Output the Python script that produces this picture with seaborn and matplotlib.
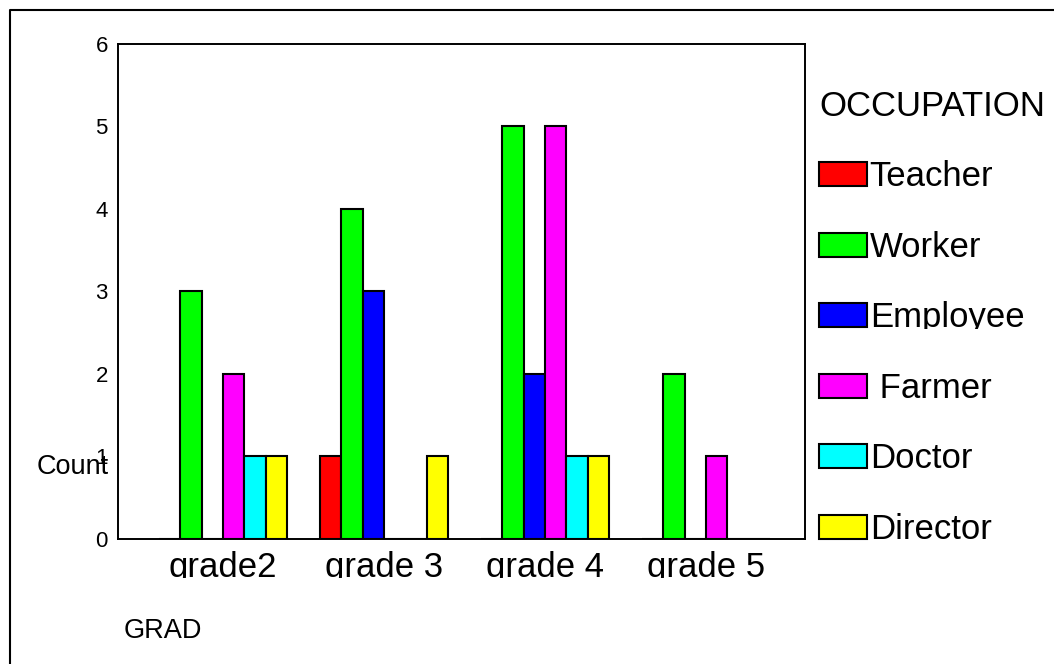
import matplotlib
matplotlib.use("Agg")
import matplotlib.pyplot as plt
from matplotlib.patches import Patch, Rectangle
from matplotlib.lines import Line2D
from matplotlib.transforms import IdentityTransform
import seaborn as sns
import pandas as pd

# Counts per grade and occupation
grades = ["grade2", "grade 3", "grade 4", "grade 5"]
occupations = ["Teacher", "Worker", "Employee", "Farmer", "Doctor", "Director"]
teacher = [0, 1, 0, 0]
worker = [3, 4, 5, 2]
employee = [0, 3, 2, 0]
farmer = [2, 0, 5, 1]
doctor = [1, 0, 1, 0]
director = [1, 1, 1, 0]
legend_labels = ["Teacher", "Worker", "Employee", " Farmer", "Doctor", "Director"]
colors = ["#FF0000", "#00FF00", "#0000FF", "#FF00FF", "#00FFFF", "#FFFF00"]
y_ticks = [0, 1, 2, 3, 4, 5, 6]

series = [teacher, worker, employee, farmer, doctor, director]
rows = []
for occ, vals in zip(occupations, series):
    for g, v in zip(grades, vals):
        rows.append({"GRAD": g, "Count": v, "OCCUPATION": occ})
df = pd.DataFrame(rows)

sns.set_theme(style="white")
plt.rcParams["font.family"] = ["Liberation Sans", "DejaVu Sans"]

W, H = 1054, 664
fig = plt.figure(figsize=(W / 100, H / 100), dpi=100)
ax = fig.add_axes([118 / W, 1 - 539 / H, (805 - 118) / W, (539 - 43.5) / H])

palette = dict(zip(occupations, colors))
sns.barplot(data=df, x="GRAD", y="Count", hue="OCCUPATION",
            order=grades, hue_order=occupations, palette=palette,
            saturation=1, width=0.8, edgecolor="black", linewidth=1.5,
            legend=False, ax=ax)

ax.set_xlim(-0.652, 3.615)
ax.set_ylim(0, 6)
ax.set_yticks(y_ticks)
ax.set_yticklabels([str(t) for t in y_ticks], fontsize=16)
ax.set_xticks(range(len(grades)))
ax.set_xticklabels(grades, fontsize=25)
ax.tick_params(axis="both", direction="out", length=4.3, width=1.3,
               color="black", labelcolor="black")
ax.tick_params(axis="y", pad=3)
ax.tick_params(axis="x", pad=4)

for s in ax.spines.values():
    s.set_visible(True)
    s.set_color("black")
    s.set_linewidth(1.4)

ax.set_ylabel("Count", rotation=0, fontsize=19.5, color="black",
              ha="center", va="center")
ax.yaxis.set_label_coords((73 - 118) / 687, (539 - 467) / 495.5)
ax.set_xlabel("GRAD", fontsize=19.5, color="black", ha="center", va="center")
ax.xaxis.set_label_coords((163 - 118) / 687, -(631 - 539) / 495.5)

handles = [Patch(facecolor=c, edgecolor="black", linewidth=1.5) for c in colors]
leg = ax.legend(handles, legend_labels, title="OCCUPATION",
                loc="upper left", bbox_to_anchor=(819 / W, 1 - 90 / H),
                bbox_transform=fig.transFigure, frameon=False, borderpad=0,
                borderaxespad=0, fontsize=25, title_fontsize=25,
                labelspacing=1.08, handlelength=1.38, handleheight=0.69,
                handletextpad=0.08, alignment="left")
for t in leg.get_texts():
    t.set_color("black")
leg.get_title().set_color("black")

# Outer frame around the chart area
fig.add_artist(Line2D([10 / W, 10 / W, 1], [0, 1 - 10 / H, 1 - 10 / H],
                      transform=fig.transFigure, color="black", linewidth=1.5))

# Category labels are cut off along their lower edge
clip = Rectangle((0, 1 - 578 / H), 1, 1, transform=fig.transFigure)
for t in ax.get_xticklabels():
    t.set_clip_path(clip)

# The "Employee" entry loses its descenders just below the baseline
fig.canvas.draw()
emp = leg.get_texts()[2]
bb = emp.get_window_extent()
descent = 0.212 * 25 * 100 / 72
emp.set_clip_path(Rectangle((0, bb.y0 + descent - 2), W, H,
                            transform=IdentityTransform()))

fig.savefig("out.png", dpi=100, facecolor="white")
